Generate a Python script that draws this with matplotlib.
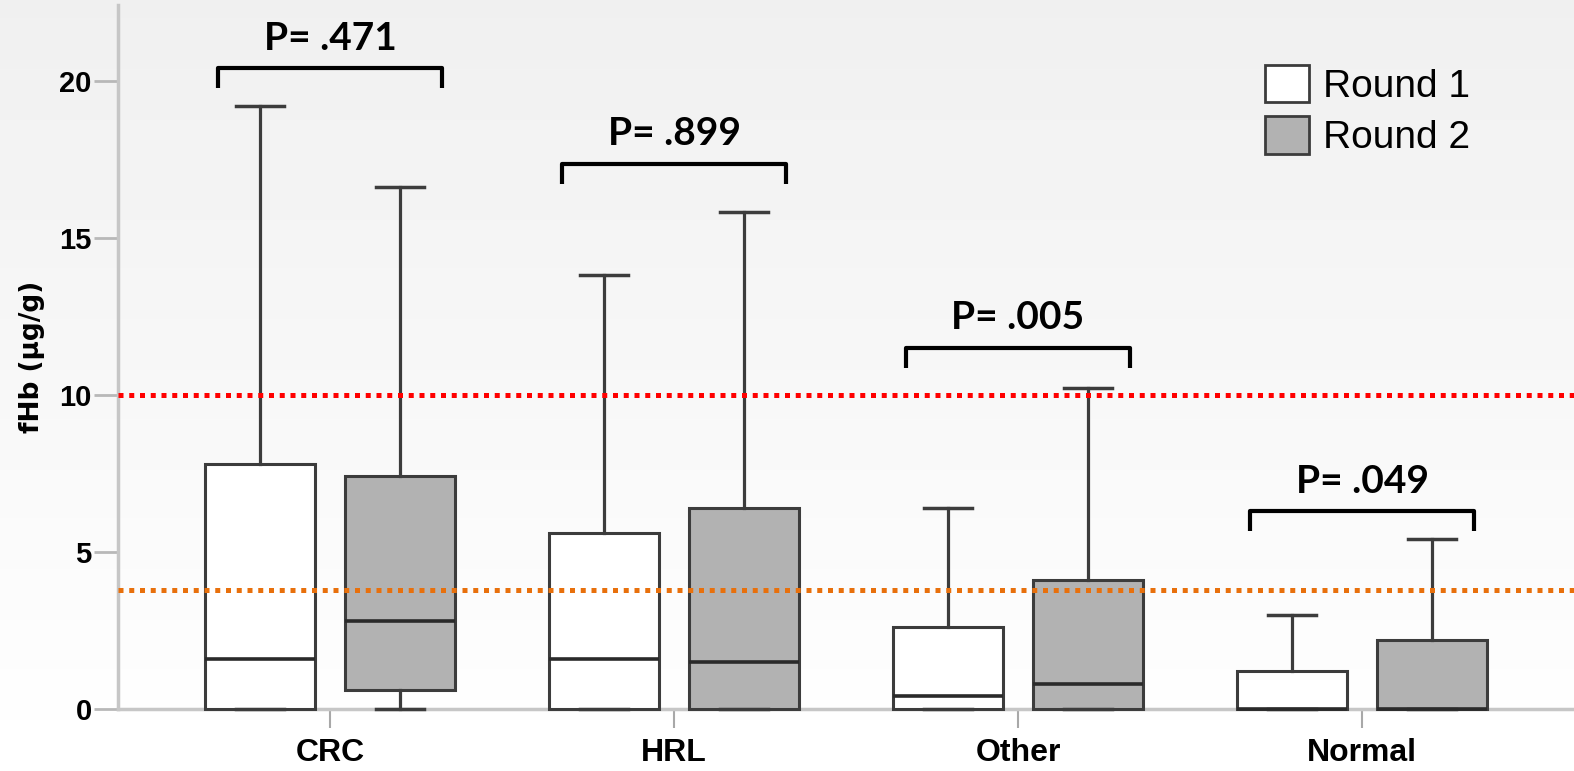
import numpy as np
import matplotlib

matplotlib.use("Agg")
from matplotlib import pyplot as plt
from matplotlib.patches import Patch

# values
categories = ["CRC", "HRL", "Other", "Normal"]

r1_whislo = [0.0, 0.0, 0.0, 0.0]
r1_q1 = [0.0, 0.0, 0.0, 0.0]
r1_med = [1.6, 1.6, 0.4, 0.0]
r1_q3 = [7.8, 5.6, 2.6, 1.2]
r1_whishi = [19.2, 13.8, 6.4, 3.0]

r2_whislo = [0.0, 0.0, 0.0, 0.0]
r2_q1 = [0.6, 0.0, 0.0, 0.0]
r2_med = [2.8, 1.5, 0.8, 0.0]
r2_q3 = [7.4, 6.4, 4.1, 2.2]
r2_whishi = [16.6, 15.8, 10.2, 5.4]

p_labels = ["P= .471", "P= .899", "P= .005", "P= .049"]
bracket_level = [20.4, 17.35, 11.5, 6.3]

cutoff_high = 10.0
cutoff_low = 3.8

edge = "#3c3c3c"
grey_fill = "#b2b2b2"


def stats(lo, q1, med, q3, hi):
    return [dict(whislo=a, q1=b, med=c, q3=d, whishi=e, fliers=[])
            for a, b, c, d, e in zip(lo, q1, med, q3, hi)]


fig = plt.figure(figsize=(15.74, 7.71), dpi=100)

# light vertical gradient background
bg = fig.add_axes([0, 0, 1, 1], zorder=-5)
grad = np.linspace(0.94, 1.0, 256).reshape(-1, 1)
bg.imshow(grad, aspect="auto", cmap="gray", vmin=0, vmax=1, extent=[0, 1, 1, 0])
bg.axis("off")

ax = fig.add_axes([0.075, 0.0804, 0.925, 0.913])
ax.patch.set_alpha(0)

x = np.arange(len(categories))
off = 0.203
w = 0.32

common = dict(widths=w, patch_artist=True, showfliers=False,
              whiskerprops=dict(color=edge, lw=2.3),
              capprops=dict(color=edge, lw=2.5),
              medianprops=dict(color="#2a2a2a", lw=2.6),
              manage_ticks=False, zorder=3)
b1 = ax.bxp(stats(r1_whislo, r1_q1, r1_med, r1_q3, r1_whishi), positions=x - off,
            boxprops=dict(facecolor="white", edgecolor=edge, lw=2.2), capwidths=0.14, **common)
b2 = ax.bxp(stats(r2_whislo, r2_q1, r2_med, r2_q3, r2_whishi), positions=x + off,
            boxprops=dict(facecolor=grey_fill, edgecolor=edge, lw=2.2), capwidths=0.14, **common)
for b in (b1, b2):
    for k in ("boxes", "medians", "caps", "whiskers"):
        for art in b[k]:
            art.set_clip_on(False)

# cutoff lines
ax.axhline(cutoff_high, color="#ff0000", lw=3.6, ls=(0, (1.0, 1.15)), zorder=5)
ax.axhline(cutoff_low, color="#e8700c", lw=3.6, ls=(0, (1.0, 1.15)), zorder=5)

# p-value brackets
for xi, lvl, lab in zip(x, bracket_level, p_labels):
    ax.plot([xi - 0.325, xi - 0.325, xi + 0.325, xi + 0.325],
            [lvl - 0.65, lvl, lvl, lvl - 0.65], color="black", lw=3,
            solid_joinstyle="round", solid_capstyle="butt", clip_on=False)
    ax.text(xi, lvl + 0.95, lab, ha="center", va="center", fontsize=28,
            fontweight="bold", family="Lato")

ax.set_xlim(-0.616, 3.616)
ax.set_ylim(0, 22.4)
ax.set_yticks([0, 5, 10, 15, 20])
ax.set_xticks(x)
ax.set_xticklabels(categories)

for s in ["top", "right"]:
    ax.spines[s].set_visible(False)
for s in ["left", "bottom"]:
    ax.spines[s].set_color("#c6c6c6")
    ax.spines[s].set_linewidth(2.5)

ax.tick_params(axis="y", length=17, width=2, color="#b8b8b8", pad=2)
ax.tick_params(axis="x", length=14, width=1.5, color="#a8a8a8", pad=7)
for t in ax.get_yticklabels():
    t.set_fontsize(21)
    t.set_fontweight("bold")
    t.set_family("Liberation Sans")
for t in ax.get_xticklabels():
    t.set_fontsize(23)
    t.set_fontweight("bold")
    t.set_family("Liberation Sans")

ax.set_ylabel("fHb (µg/g)", fontsize=19, fontweight="bold", family="DejaVu Sans", labelpad=10)

handles = [Patch(facecolor="white", edgecolor=edge, lw=2),
           Patch(facecolor=grey_fill, edgecolor=edge, lw=2)]
ax.legend(handles, ["Round 1", "Round 2"], loc="upper left", bbox_to_anchor=(0.788, 0.915),
          frameon=False, prop=dict(family="Liberation Sans", size=28),
          handlelength=1.12, handleheight=1.1, handletextpad=0.35, labelspacing=0.3,
          borderpad=0, borderaxespad=0)

fig.savefig("out.png", dpi=100)
